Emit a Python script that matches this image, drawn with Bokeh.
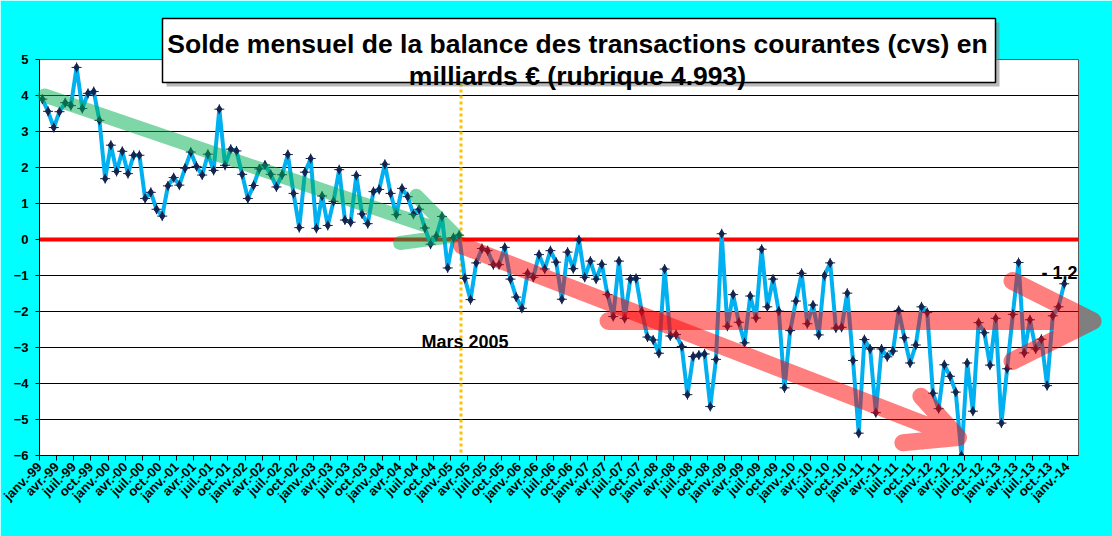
import math
from bokeh.plotting import figure
from bokeh.models import Range1d, FixedTicker, Span, Label
from bokeh.core.properties import value
from bokeh.embed import file_html
from bokeh.resources import INLINE

# ---------------- data (monthly, janv.-99 ... déc.-13) ----------------
solde = [
    3.90, 3.56, 3.11, 3.55, 3.80, 3.72, 4.78, 3.64, 4.06, 4.11, 3.31, 1.69,   # 1999
    2.62, 1.89, 2.45, 1.83, 2.34, 2.34, 1.14, 1.31, 0.84, 0.65, 1.49, 1.72,   # 2000
    1.51, 1.98, 2.43, 2.03, 1.79, 2.37, 1.92, 3.62, 2.06, 2.51, 2.46, 1.81,   # 2001
    1.14, 1.50, 1.96, 2.07, 1.81, 1.46, 1.80, 2.36, 1.28, 0.33, 1.87, 2.25,   # 2002
    0.31, 1.21, 0.39, 1.06, 1.94, 0.54, 0.48, 1.78, 0.71, 0.44, 1.33, 1.39,   # 2003
    2.09, 1.28, 0.69, 1.42, 1.19, 0.70, 0.84, 0.32, -0.13, 0.09, 0.64, -0.79, # 2004
    0.05, 0.12, -1.08, -1.67, -0.65, -0.25, -0.31, -0.70, -0.70, -0.22, -1.10, -1.60,  # 2005
    -1.91, -0.94, -1.05, -0.42, -0.82, -0.31, -0.63, -1.66, -0.35, -0.81, -0.01, -1.05,  # 2006
    -0.60, -1.10, -0.69, -1.53, -2.14, -0.60, -2.19, -1.10, -1.08, -2.00, -2.71, -2.79,  # 2007
    -3.16, -0.82, -2.68, -2.64, -2.97, -4.31, -3.25, -3.21, -3.18, -4.64, -3.33, 0.16,   # 2008
    -2.41, -1.53, -2.30, -2.87, -1.57, -2.18, -0.27, -1.87, -1.10, -1.99, -4.12, -2.53,  # 2009
    -1.71, -0.94, -2.34, -1.82, -2.65, -1.00, -0.65, -2.46, -2.44, -1.49, -3.36, -5.38,  # 2010
    -2.78, -3.04, -4.81, -3.04, -3.26, -3.10, -1.97, -2.73, -3.43, -2.93, -1.87, -2.03,  # 2011
    -4.27, -4.70, -3.48, -3.80, -4.24, -6.00, -3.43, -4.77, -2.31, -2.59, -3.49, -2.19,  # 2012
    -5.10, -3.59, -2.08, -0.64, -3.15, -2.23, -3.04, -2.77, -4.06, -2.12, -1.87, -1.23,  # 2013
]
month_index = list(range(len(solde)))

tick_months = ["janv.", "avr.", "juil.", "oct."]
tick_labels = [f"{tick_months[k % 4]}-{(99 + k // 4) % 100:02d}" for k in range(61)]
tick_positions = [3 * k - 0.5 for k in range(61)]
y_ticks = list(range(-6, 6))

title_lines = ["Solde mensuel de la balance des transactions courantes (cvs) en",
               "milliards € (rubrique 4.993)"]
mars_label = "Mars 2005"
last_label = "- 1,2"

# ---------------- geometry helpers (reference page pixels -> data) ----------------
XMIN, XMAX, YMIN, YMAX = -0.5, 181.5, -6, 5
FX0, FX1, FY0, FY1 = 39.0, 1078.0, 59.0, 455.0


def dx(px):
    return XMIN + (px - FX0) * (XMAX - XMIN) / (FX1 - FX0)


def dy(py):
    return YMAX - (py - FY0) * (YMAX - YMIN) / (FY1 - FY0)


def arrow_path(start, tip, head_len, head_half):
    vx, vy = tip[0] - start[0], tip[1] - start[1]
    n = math.hypot(vx, vy)
    ux, uy = vx / n, vy / n
    nx, ny = -uy, ux
    bx, by = tip[0] - head_len * ux, tip[1] - head_len * uy
    w1 = (bx + head_half * nx, by + head_half * ny)
    w2 = (bx - head_half * nx, by - head_half * ny)
    pts = [start, tip, w1, tip, w2]
    return [dx(q[0]) for q in pts], [dy(q[1]) for q in pts]


FONT = "Liberation Sans"
CYAN = "#00FFFF"
W, H = 1112, 536
FL, FT, FW, FH = 39, 59, 1039, 396

p = figure(width=W, height=H, output_backend="svg", toolbar_location=None,
           x_range=Range1d(XMIN, XMAX), y_range=Range1d(YMIN, YMAX),
           min_border_left=FL, min_border_right=W - FL - FW,
           min_border_top=FT, min_border_bottom=H - FT - FH,
           background_fill_color="white", border_fill_color=CYAN,
           outline_line_color="#595959", outline_line_width=1)
p.title.visible = False

# axes
p.xaxis.ticker = FixedTicker(ticks=tick_positions)
p.xaxis.major_label_overrides = {tp: lab for tp, lab in zip(tick_positions, tick_labels)}
p.xaxis.major_label_orientation = math.pi / 4
p.xaxis.major_label_text_font = FONT
p.xaxis.major_label_text_font_style = "bold"
p.xaxis.major_label_text_font_size = "13px"
p.xaxis.major_label_text_color = "black"
p.xaxis.major_label_standoff = 4
p.xaxis.major_tick_in = 0
p.xaxis.major_tick_out = 5
p.xaxis.minor_tick_line_color = None
p.xaxis.axis_line_color = "black"
p.xaxis.major_tick_line_color = "black"

p.yaxis.ticker = FixedTicker(ticks=y_ticks)
p.yaxis.major_label_text_font = FONT
p.yaxis.major_label_text_font_style = "bold"
p.yaxis.major_label_text_font_size = "13px"
p.yaxis.major_label_text_color = "black"
p.yaxis.major_label_standoff = 7
p.yaxis.major_tick_in = 0
p.yaxis.major_tick_out = 4
p.yaxis.minor_tick_line_color = None
p.yaxis.axis_line_color = "black"
p.yaxis.major_tick_line_color = "black"

p.xgrid.visible = False
p.ygrid.ticker = FixedTicker(ticks=y_ticks)
p.ygrid.grid_line_color = "black"
p.ygrid.grid_line_width = 1

# zero line and Mars 2005 marker
p.add_layout(Span(location=0, dimension="width", line_color="#FF0000", line_width=4, level="underlay"))
p.add_layout(Span(location=dx(460.5), dimension="height", line_color="#FFC000",
                  line_width=3, line_dash="3 3", level="underlay"))

# data series
p.line(month_index, solde, line_color="#00B0F0", line_width=4)
p.scatter(month_index, solde, marker="diamond", size=8, fill_color="#15254F", line_color="#15254F")
p.scatter(month_index, solde, marker="cross", size=10, line_color="#15254F", line_width=1)

# trend arrows
gx, gy = arrow_path((44, 95), (455, 235), 50, 25)
p.line(gx, gy, line_color="#00B050", line_alpha=0.5, line_width=14,
       line_cap="round", line_join="round", level="overlay")
rx, ry = arrow_path((461, 245), (958, 437), 50, 25)
p.line(rx, ry, line_color="#FF0000", line_alpha=0.5, line_width=17,
       line_cap="round", line_join="round", level="overlay")
hx, hy = arrow_path((608, 320.5), (1092, 320.5), 80, 40)
p.line(hx, hy, line_color="#FF0000", line_alpha=0.5, line_width=18,
       line_cap="round", line_join="round", level="overlay")

# text annotations
p.add_layout(Label(x=dx(464.5), y=dy(341.5), text=mars_label, text_align="center",
                   text_baseline="alphabetic", text_font=FONT, text_font_style="bold",
                   text_font_size="18px", text_color="black", level="overlay"))
p.add_layout(Label(x=dx(1059), y=dy(272.5), text=last_label, text_align="center",
                   text_baseline="alphabetic", text_font=FONT, text_font_style="bold",
                   text_font_size="18px", text_color="black", level="overlay"))

# title box with shadow
p.quad(left=[dx(166)], right=[dx(999)], top=[dy(22)], bottom=[dy(86)],
       fill_color="#808080", fill_alpha=0.55, line_color=None, level="overlay")
p.quad(left=[dx(162)], right=[dx(995)], top=[dy(18)], bottom=[dy(82)],
       fill_color="white", line_color="black", line_width=1.5, level="overlay")
p.text(x=[dx(577), dx(577)], y=[dy(43.5), dy(75)], text=title_lines,
       text_align="center", text_baseline="alphabetic", text_font=value(FONT),
       text_font_style="bold", text_font_size=value("26.5px"), text_color="black",
       level="overlay")

open("out.html", "w").write(file_html(p, INLINE))
